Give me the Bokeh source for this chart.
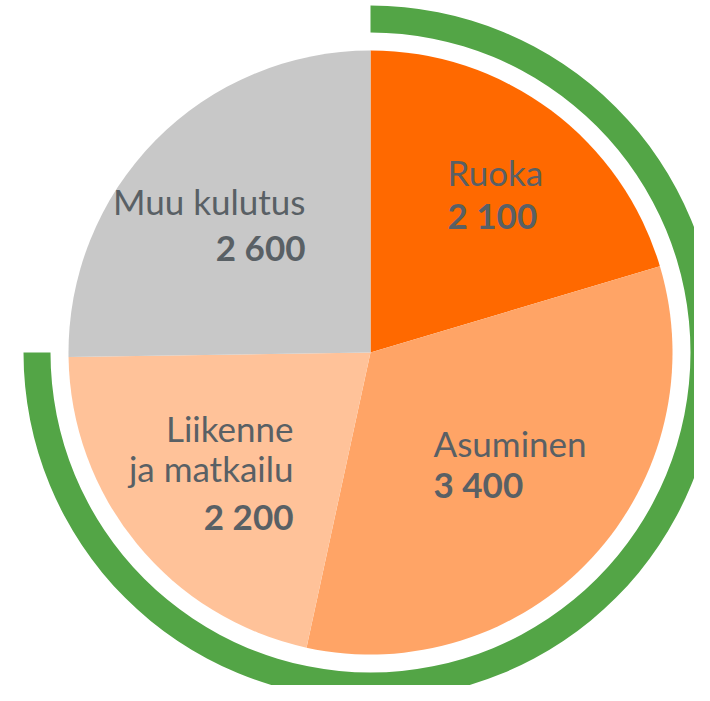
import math
from bokeh.plotting import figure
from bokeh.models import Range1d
from bokeh.core.properties import value
from bokeh.embed import file_html
from bokeh.resources import INLINE

# Data
categories = ["Ruoka", "Asuminen", "Liikenne ja matkailu", "Muu kulutus"]
values = [2100, 3400, 2200, 2600]
name_lines = [["Ruoka"], ["Asuminen"], ["Liikenne", "ja matkailu"], ["Muu kulutus"]]
value_labels = ["2 100", "3 400", "2 200", "2 600"]
colors = ["#FF6900", "#FFA466", "#FFC299", "#C8C8C8"]

W, H = 694, 685
p = figure(width=W, height=H, x_range=Range1d(0, W), y_range=Range1d(0, H),
           x_axis_location=None, y_axis_location=None, toolbar_location=None,
           output_backend="svg", min_border=0)
p.grid.visible = False
p.outline_line_color = None
p.background_fill_color = "white"

def X(ix):
    return ix

def Y(iy):
    return H - iy

cx, cy = X(370), Y(352)
R = 302
total = sum(values)
cum = 0
for v, c in zip(values, colors):
    start = math.pi / 2 - cum / total * 2 * math.pi
    cum += v
    end = math.pi / 2 - cum / total * 2 * math.pi
    p.wedge(x=cx, y=cy, radius=R, start_angle=start, end_angle=end,
            direction="clock", fill_color=c, line_color=None)

# green ring
p.annular_wedge(x=cx, y=cy, inner_radius=320, outer_radius=347,
                start_angle=math.pi / 2, end_angle=math.pi, direction="clock",
                fill_color="#53A546", line_color=None)

txt_color = "#596065"
font = value("Lato")
fs = "35px"
dy = 15  # baseline correction

# label placements (anchor x, align, baselines of name lines, baseline of value)
placements = [
    (447, "left", [186], 229),
    (433, "left", [457], 498),
    (293, "right", [442, 482], 530),
    (305, "right", [215], 261),
]
for lines, vl, (ax, al, bls, vb) in zip(name_lines, value_labels, placements):
    for ln, bl in zip(lines, bls):
        p.text(x=[X(ax)], y=[Y(bl - dy)], text=[ln], text_font=font, text_font_size=fs,
               text_color=txt_color, text_align=al, text_baseline="alphabetic")
    p.text(x=[X(ax)], y=[Y(vb - dy)], text=[vl], text_font=font, text_font_size=fs,
           text_font_style="bold", text_color=txt_color, text_align=al,
           text_baseline="alphabetic")

open("out.html", "w").write(file_html(p, INLINE))
